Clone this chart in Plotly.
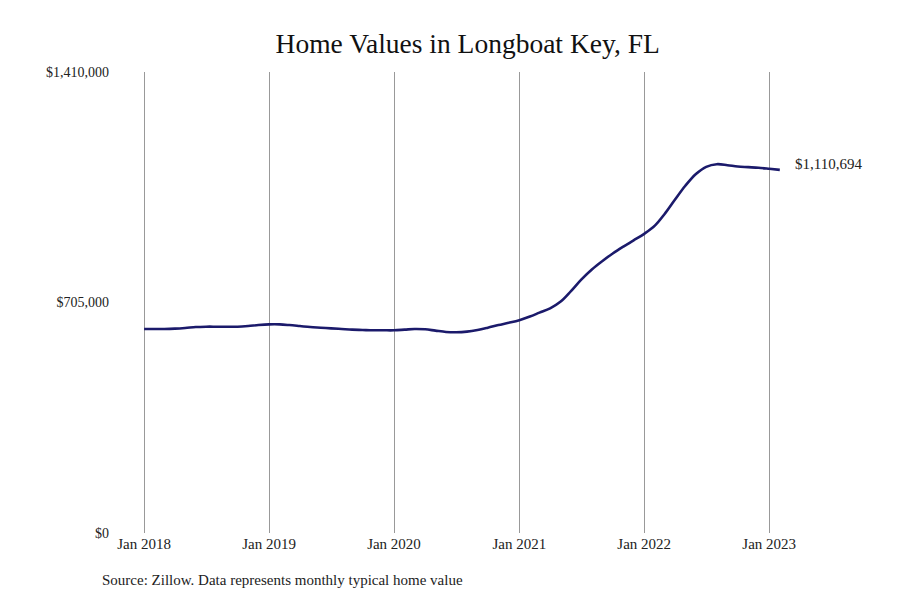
import pandas as pd
import plotly.graph_objects as go

# typical home value per month, Jan 2018 .. Feb 2023
values_2018 = [624000, 624000, 624000, 625000, 627000, 630000,
               631000, 631000, 631000, 631000, 633000, 636000]
values_2019 = [638000, 638000, 636000, 633000, 630000, 628000,
               626000, 624000, 622000, 621000, 620000, 620000]
values_2020 = [620000, 622000, 624000, 623000, 619000, 615000,
               614000, 616000, 621000, 628000, 636000, 643000]
values_2021 = [651000, 662000, 674000, 687000, 707000, 740000,
               775000, 806000, 832000, 855000, 876000, 895000]
values_2022 = [915000, 940000, 975000, 1020000, 1062000, 1098000,
               1120000, 1128000, 1125000, 1121000, 1119000, 1117000]
values_2023 = [1114000, 1110694]

values = values_2018 + values_2019 + values_2020 + values_2021 + values_2022 + values_2023
months = pd.date_range("2018-01-01", periods=len(values), freq="MS")

year_ticks = ["2018-01-01", "2019-01-01", "2020-01-01", "2021-01-01", "2022-01-01", "2023-01-01"]
year_labels = ["Jan 2018", "Jan 2019", "Jan 2020", "Jan 2021", "Jan 2022", "Jan 2023"]
y_ticks = [0, 705000, 1410000]
y_labels = ["$0", "$705,000", "$1,410,000"]

SERIF = "Liberation Serif, DejaVu Serif, serif"
NAVY = "#1b1a6b"

fig = go.Figure()
fig.add_trace(go.Scatter(
    x=months, y=values, mode="lines", line=dict(color=NAVY, width=2.6, shape="spline"),
    hovertemplate="%{x|%b %Y}: $%{y:,.0f}<extra></extra>", showlegend=False))

# end-of-line value label
fig.add_annotation(
    x=months[-1], y=values[-1], text=f"${values[-1]:,}", showarrow=False,
    xanchor="left", xshift=13, yshift=6, font=dict(family=SERIF, size=15, color="#222"))

fig.add_annotation(
    text="Source: Zillow. Data represents monthly typical home value",
    xref="paper", yref="paper", x=-0.022, y=-0.102, xanchor="left", yanchor="middle",
    showarrow=False, font=dict(family=SERIF, size=15, color="#222"))

# page body adds an 8px margin, so the figure is 16px smaller than the window
fig.update_layout(
    width=884, height=584, paper_bgcolor="white", plot_bgcolor="white",
    margin=dict(l=107, r=92, t=64, b=59),
    title=dict(text="Home Values in Longboat Key, FL", x=0.52, xanchor="center",
               y=0.94, yanchor="middle", font=dict(family=SERIF, size=27.5, color="#111")),
    font=dict(family=SERIF, size=14, color="#222"),
    xaxis=dict(range=["2017-10-08", "2023-04-01"], tickvals=year_ticks, ticktext=year_labels,
               showgrid=True, gridcolor="#999", gridwidth=1, zeroline=False,
               showline=False, ticks="", tickfont=dict(size=15)),
    yaxis=dict(range=[0, 1410000], tickvals=y_ticks, ticktext=y_labels,
               showgrid=False, zeroline=False, showline=False, ticks="",
               ticklabelstandoff=5, tickfont=dict(size=14)),
)

fig.write_html("out.html")
